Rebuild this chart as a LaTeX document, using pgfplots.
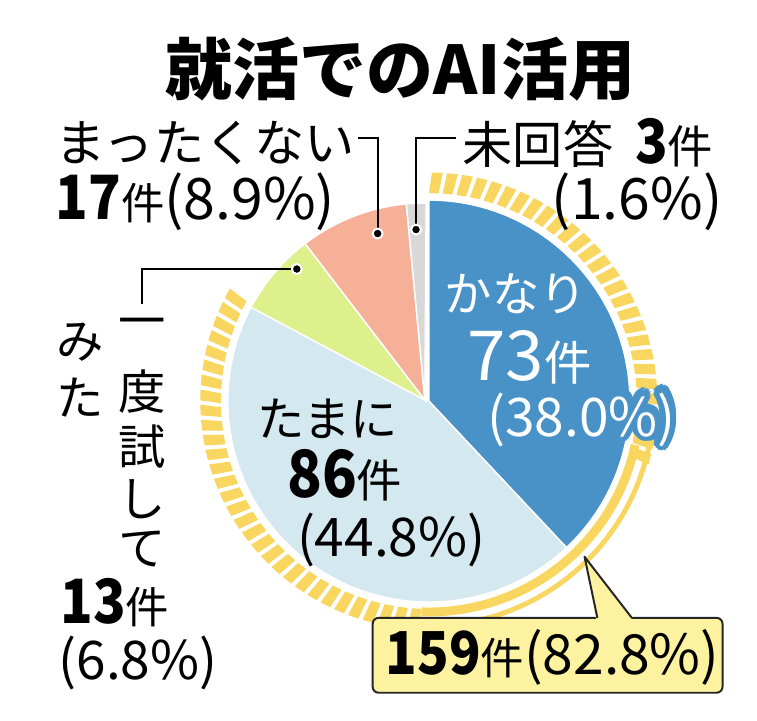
\documentclass[border=0pt]{standalone}
\usepackage{pgfplots}
\pgfplotsset{compat=1.18}
\usepackage{pgfplotstable}
\usepackage{fontspec}
\usepackage{contour}
\setmainfont{Noto Sans CJK JP}
\newfontfamily\numfont[FakeStretch=0.88]{Noto Sans CJK JP}

\definecolor{cKanari}{RGB}{72,146,199}
\definecolor{cTamani}{RGB}{212,232,240}
\definecolor{cIchido}{RGB}{222,240,140}
\definecolor{cMattaku}{RGB}{246,176,152}
\definecolor{cMikaitou}{RGB}{216,216,216}
\definecolor{cStripe}{RGB}{248,214,96}
\definecolor{cBox}{RGB}{252,242,160}

% answers to the question, in percent, clockwise from 12 o'clock
\pgfplotstableread{
label count pct
kanari 73 38.0
tamani 86 44.8
ichido 13 6.8
mattaku 17 8.9
mikaitou 3 1.6
}\piedata

\newcommand\fs[2]{{\fontsize{#1}{#1}\selectfont #2}}
\newcommand\halo[3]{\contourlength{#1}\contour{cKanari}{\color{#2}#3}}

\begin{document}
\pgfplotstablegetelem{0}{pct}\of\piedata\pgfmathsetmacro\aA{90-3.6*\pgfplotsretval}
\pgfplotstablegetelem{1}{pct}\of\piedata\pgfmathsetmacro\aB{\aA-3.6*\pgfplotsretval}
\pgfplotstablegetelem{2}{pct}\of\piedata\pgfmathsetmacro\aC{\aB-3.6*\pgfplotsretval}
\pgfplotstablegetelem{3}{pct}\of\piedata\pgfmathsetmacro\aD{\aC-3.6*\pgfplotsretval}
\pgfplotstablegetelem{4}{pct}\of\piedata\pgfmathsetmacro\aE{\aD-3.6*\pgfplotsretval}
\begin{tikzpicture}
\begin{axis}[x=1pt, y=1pt, xmin=0, xmax=757, ymin=0, ymax=731, y dir=reverse,
  hide axis, clip=false]
\path (axis cs:0,0) rectangle (axis cs:757,731);
\coordinate (B) at (axis cs:424,407);
\coordinate (S) at (axis cs:420,406);

% striped ring round the "kanari + tamani" share
\pgfplotsinvokeforeach{90,86.2,...,-11}{
  \fill[cStripe] ([shift={(#1:211pt)}]B) -- ([shift={({#1-2.7}:211pt)}]B)
    -- ([shift={({#1-3.5}:232pt)}]B) -- ([shift={({#1-0.8}:232pt)}]B) -- cycle;
}
\pgfplotsinvokeforeach{-92,-95.8,...,-206}{
  \fill[cStripe] ([shift={(#1:211pt)}]B) -- ([shift={({#1-2.7}:211pt)}]B)
    -- ([shift={({#1-3.5}:232pt)}]B) -- ([shift={({#1-0.8}:232pt)}]B) -- cycle;
}
\draw[cStripe, line width=9pt] ([shift={(-12:214pt)}]B) arc[start angle=-12, end angle=-92, radius=214pt];
\draw[cStripe, line width=5pt] ([shift={(-12:228pt)}]B) arc[start angle=-12, end angle=-92, radius=228pt];

% slices
\fill[cKanari, draw=white, line width=1.5pt] (B) -- ([shift={(90:204pt)}]B) arc[start angle=90, end angle=\aA, radius=204pt] -- cycle;
\fill[cTamani, draw=white, line width=1.5pt] (B) -- ([shift={(\aA:204pt)}]B) arc[start angle=\aA, end angle=\aB, radius=204pt] -- cycle;
\fill[cIchido, draw=white, line width=1.5pt] (S) -- ([shift={(\aB:200pt)}]S) arc[start angle=\aB, end angle=\aC, radius=200pt] -- cycle;
\fill[cMattaku, draw=white, line width=1.5pt] (S) -- ([shift={(\aC:200pt)}]S) arc[start angle=\aC, end angle=\aD, radius=200pt] -- cycle;
\fill[cMikaitou, draw=white, line width=1.5pt] (S) -- ([shift={(\aD:200pt)}]S) arc[start angle=\aD, end angle=\aE, radius=200pt] -- cycle;

% title
\node[inner sep=0] at (axis cs:395,70) {\fs{68}{\bfseries 就活でのAI活用}};

% leaders
\draw[line width=2pt] (axis cs:352,140) -| (axis cs:372,237);
\draw[line width=2pt] (axis cs:452,140) -| (axis cs:411,233);
\draw[line width=2pt] (axis cs:133,308) |- (axis cs:290,273);
\fill[black, draw=white, line width=2pt] (axis cs:372,237) circle[radius=5pt];
\fill[black, draw=white, line width=2pt] (axis cs:411,233) circle[radius=5pt];
\fill[black, draw=white, line width=2pt] (axis cs:290,273) circle[radius=5pt];

% outside labels
\node[anchor=west, inner sep=0] at (axis cs:45,145) {\fs{51}{まったくない}};
\node[anchor=west, inner sep=0] at (axis cs:45,205) {\fs{62}{\bfseries\numfont 17}\fs{44}{件}\fs{58}{(8.9\%)}};
\node[anchor=west, inner sep=0] at (axis cs:458,145) {\fs{51}{未回答}\hspace{22pt}\fs{62}{\bfseries\numfont 3}\fs{46}{件}};
\node[anchor=east, inner sep=0] at (axis cs:722,205) {\fs{58}{(1.6\%)}};

\node[inner sep=0] at (axis cs:133,333) {\fs{48}{一}};
\node[inner sep=0] at (axis cs:133,397) {\fs{48}{度}};
\node[inner sep=0] at (axis cs:133,453) {\fs{48}{試}};
\node[inner sep=0] at (axis cs:133,507) {\fs{48}{し}};
\node[inner sep=0] at (axis cs:133,557) {\fs{48}{て}};
\node[inner sep=0] at (axis cs:70,347) {\fs{48}{み}};
\node[inner sep=0] at (axis cs:70,403) {\fs{48}{た}};
\node[anchor=west, inner sep=0] at (axis cs:50,612) {\fs{62}{\bfseries\numfont 13}\fs{44}{件}};
\node[anchor=west, inner sep=0] at (axis cs:48,673) {\fs{54}{(6.8\%)}};

% inside labels
\node[anchor=west, inner sep=0, white] at (axis cs:440,298) {\fs{48}{かなり}};
\node[anchor=west, inner sep=0, white] at (axis cs:463,363) {\fs{70}{73}\fs{48}{件}};
\node[anchor=west, inner sep=0] at (axis cs:483,427) {\fs{54}{\halo{6.5pt}{cKanari}{(38.0\%)}}};
\node[anchor=west, inner sep=0] at (axis cs:483,427) {\fs{54}{\halo{4.5pt}{cKanari}{(38.0\%)}}};
\node[anchor=west, inner sep=0] at (axis cs:483,427) {\fs{54}{\halo{2.5pt}{white}{(38.0\%)}}};
\node[anchor=west, inner sep=0] at (axis cs:250,425) {\fs{48}{たまに}};
\node[anchor=west, inner sep=0] at (axis cs:280,482) {\fs{66}{\bfseries\numfont 86}\fs{46}{件}};
\node[anchor=west, inner sep=0] at (axis cs:290,548) {\fs{54}{(44.8\%)}};

% callout
\fill[cBox, draw=black!85, line width=2pt, rounded corners=6pt] (axis cs:367,627) rectangle (axis cs:722,703);
\fill[cBox] (axis cs:594,629.5) -- (axis cs:582,565) -- (axis cs:631,629.5) -- cycle;
\draw[black!85, line width=2pt, line join=round] (axis cs:595,627) -- (axis cs:582,565) -- (axis cs:630,627);
\node[anchor=west, inner sep=0] at (axis cs:380,667) {\fs{60}{\bfseries\numfont 159}\fs{44}{件}\fs{56}{(82.8\%)}};
\end{axis}
\end{tikzpicture}
\end{document}
